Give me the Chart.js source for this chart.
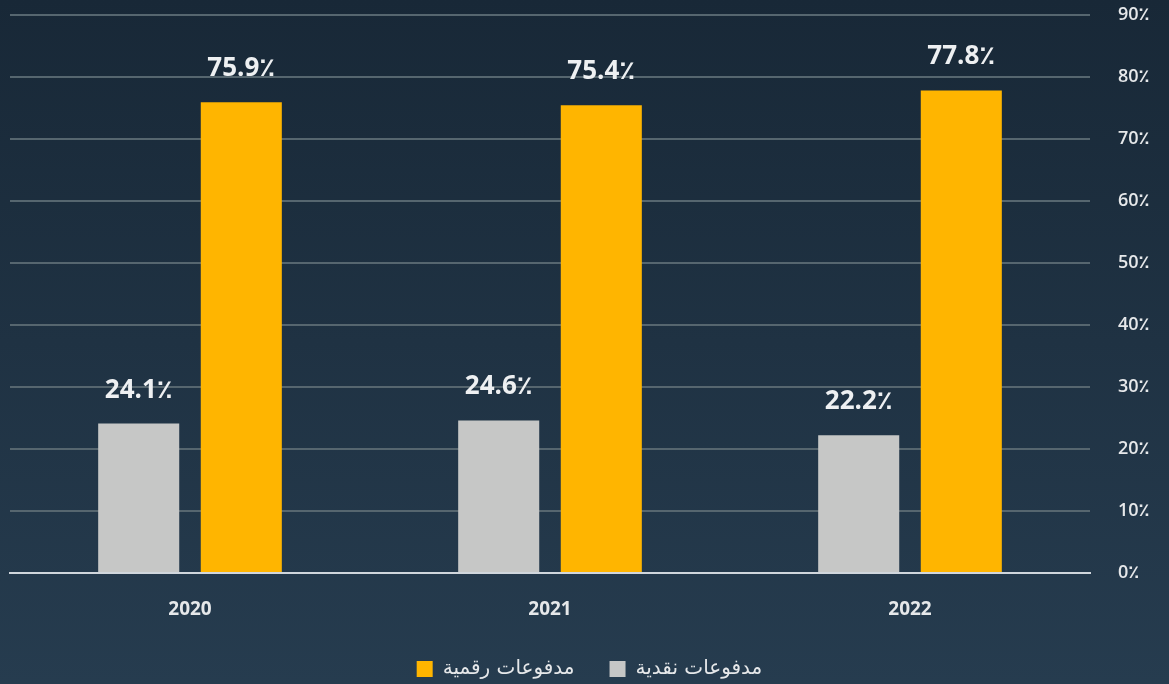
<!DOCTYPE html>
<html>
<head>
<meta charset="utf-8">
<script src="https://cdn.jsdelivr.net/npm/chart.js@4"></script>
<style>
  html, body { margin:0; padding:0; }
  body { width:1169px; height:684px; background:linear-gradient(#182837, #263c4f); overflow:hidden; }
  #wrap { width:1169px; height:684px; }
</style>
</head>
<body>
<div id="wrap"><canvas id="payChart" width="1169" height="684"></canvas></div>
<script>
const years   = ['2020','2021','2022'];
const cash    = [24.1, 24.6, 22.2];
const digital = [75.9, 75.4, 77.8];
const yTicks  = [0,10,20,30,40,50,60,70,80,90];

// value labels above bars
const valueLabels = {
  id:'valueLabels',
  afterDatasetsDraw(chart) {
    const ctx = chart.ctx;
    ctx.save();
    ctx.font = 'bold 26px "Open Sans", "DejaVu Sans", sans-serif';
    ctx.fillStyle = '#eef0f2';
    ctx.textAlign = 'center';
    ctx.textBaseline = 'alphabetic';
    chart.data.datasets.forEach((ds, i) => {
      chart.getDatasetMeta(i).data.forEach((bar, j) => {
        ctx.fillText(ds.data[j] + '٪', bar.x, bar.y - 26);
      });
    });
    ctx.restore();
  }
};

new Chart(document.getElementById('payChart'), {
  type:'bar',
  data:{
    labels:years,
    datasets:[
      {label:'مدفوعات نقدية', data:cash, backgroundColor:'#c6c7c6'},
      {label:'مدفوعات رقمية', data:digital, backgroundColor:'#ffb500'}
    ]
  },
  options:{
    responsive:false,
    animation:false,
    layout:{padding:{left:10, top:0, right:0, bottom:0}},
    datasets:{bar:{categoryPercentage:0.57, barPercentage:0.79}},
    plugins:{
      tooltip:{enabled:false},
      legend:{
        position:'bottom',
        reverse:true,
        maxHeight:60,
        labels:{
          color:'#e6e8ea',
          boxWidth:16, boxHeight:16,
          padding:35,
          font:{size:20, family:'"DejaVu Sans", sans-serif'}
        }
      }
    },
    scales:{
      x:{
        grid:{display:false},
        border:{display:true, color:'#d0d6dc', width:2},
        afterFit(axis) { axis.height = 51; },
        ticks:{color:'#e6e8ea', padding:17, font:{size:19, weight:'bold', family:'"Open Sans", sans-serif'}}
      },
      y:{
        position:'right',
        min:0, max:90,
        afterBuildTicks(axis) { axis.ticks = yTicks.map(v => ({value:v})); },
        afterFit(axis) { axis.width = 79; },
        border:{display:false},
        grid:{
          color: c => c.tick.value === 0 ? 'rgba(0,0,0,0)' : '#56666f',
          lineWidth:2,
          drawTicks:true,
          tickLength:24,
          tickColor:'rgba(0,0,0,0)'
        },
        ticks:{
          color:'#e6e8ea',
          padding:4,
          crossAlign:'near',
          font:{size:18, weight:'600', family:'"Open Sans", "DejaVu Sans", sans-serif'},
          callback: v => v + '٪'
        }
      }
    }
  },
  plugins:[valueLabels]
});
</script>
</body>
</html>
